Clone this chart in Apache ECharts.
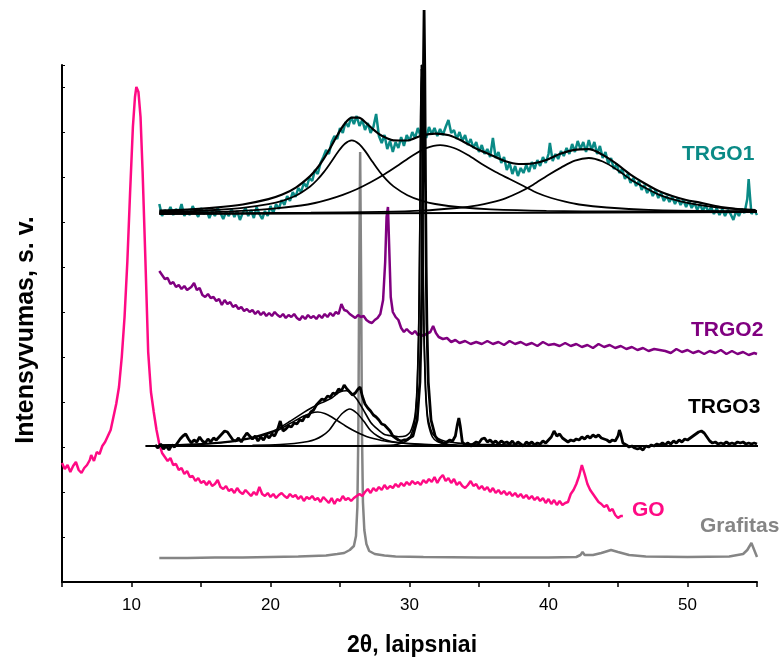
<!DOCTYPE html>
<html>
<head>
<meta charset="utf-8">
<script src="https://cdn.jsdelivr.net/npm/echarts@6/dist/echarts.min.js"></script>
<style>html,body{margin:0;padding:0;background:#fff}#c{width:784px;height:660px}</style>
</head>
<body>
<div id="c"></div>
<script>
// x-axis tick labels shown
const xTickLabels = [10, 20, 30, 40, 50];

// Grafitas (grey)
const grafitas = [[12,24],[14,24],[16,24.5],[18,24.5],[20,25],[22,25.5],[23,26],[24,26.5],[24.8,28],[25.3,29],[25.7,32],[26.0,36],[26.15,46],[26.25,75],[26.32,150],[26.38,300],[26.45,430],[26.52,300],[26.58,150],[26.65,80],[26.75,52],[26.9,38],[27.1,31],[27.5,28],[28.2,26.5],[29,25.5],[31,25],[35,24.5],[40,24.5],[42,25],[42.3,27],[42.45,30],[42.6,27],[43.2,27],[43.8,29],[44.5,32],[45,30],[45.8,27],[47,25.5],[50,25],[53,25.5],[54,28],[54.3,32],[54.6,39],[54.8,32],[55,25]];

// GO (pink)
const go = [[5.0,119],[5.2,113],[5.4,117],[5.6,110],[5.8,116],[6.0,120],[6.2,112],[6.4,109],[6.6,114],[6.8,117],[7.0,122],[7.1,127],[7.3,121],[7.5,130],[7.7,128],[7.9,136],[8.1,140],[8.3,146],[8.5,152],[8.7,165],[8.9,178],[9.1,195],[9.3,225],[9.5,265],[9.7,320],[9.9,390],[10.1,455],[10.25,485],[10.35,495],[10.5,490],[10.65,465],[10.8,410],[11.0,322],[11.2,230],[11.4,190],[11.6,170],[11.8,152],[12.0,138],[12.2,129],[12.4,125],[12.6,121],[12.8,124],[13.0,117],[13.2,118],[13.4,112],[13.6,114],[13.8,108],[14.0,111],[14.2,105],[14.4,106],[14.6,101],[14.8,104],[15.0,99],[15.2,101],[15.4,97],[15.6,101],[15.8,96],[16.0,98],[16.2,102],[16.4,95],[16.6,93],[16.8,96],[17.0,91],[17.2,93],[17.4,89],[17.6,94],[17.8,90],[18.0,88],[18.2,92],[18.4,89],[18.6,86],[18.8,90],[19.0,87],[19.2,95],[19.4,88],[19.6,86],[19.8,89],[20.0,85],[20.2,88],[20.4,84],[20.6,87],[20.8,89],[21.0,86],[21.2,84],[21.4,88],[21.6,85],[21.8,87],[22.0,83],[22.2,86],[22.4,81],[22.6,85],[22.8,83],[23.0,86],[23.2,82],[23.4,84],[23.6,80],[23.8,85],[24.0,82],[24.2,79],[24.4,84],[24.6,78],[24.8,83],[25.0,81],[25.2,86],[25.4,82],[25.6,84],[25.8,81],[26.0,84],[26.2,86],[26.4,88],[26.6,86],[26.8,90],[27.0,93],[27.2,89],[27.4,94],[27.6,91],[27.8,95],[28.0,92],[28.2,97],[28.4,93],[28.6,96],[28.8,94],[29.0,98],[29.2,95],[29.4,99],[29.6,96],[29.8,100],[30.0,97],[30.2,101],[30.4,98],[30.6,100],[30.8,97],[31.0,102],[31.2,99],[31.4,103],[31.6,100],[31.8,105],[32.0,99],[32.2,104],[32.4,107],[32.6,101],[32.8,104],[33.0,99],[33.2,103],[33.4,97],[33.6,100],[33.8,96],[34.0,94],[34.2,97],[34.4,101],[34.6,96],[34.8,98],[35.0,93],[35.2,96],[35.4,92],[35.6,95],[35.8,90],[36.0,94],[36.2,89],[36.4,92],[36.6,88],[36.8,91],[37.0,87],[37.2,90],[37.4,86],[37.6,89],[37.8,85],[38.0,88],[38.2,84],[38.4,87],[38.6,83],[38.8,86],[39.0,82],[39.2,85],[39.4,81],[39.6,84],[39.8,79],[40.0,83],[40.2,78],[40.4,82],[40.6,77],[40.8,81],[41.0,77],[41.2,79],[41.4,80],[41.6,88],[41.8,92],[42.0,98],[42.2,106],[42.4,117],[42.6,108],[42.8,98],[43.0,92],[43.2,88],[43.4,84],[43.6,80],[43.8,78],[44.0,75],[44.2,77],[44.4,71],[44.6,73],[44.8,67],[45.0,64],[45.2,66],[45.35,66]];

// TRGO2 (purple)
const trgo2 = [[12.0,311],[12.2,307],[12.4,303],[12.6,304],[12.8,298],[13.0,300],[13.2,295],[13.4,297],[13.6,293],[13.8,296],[14.0,292],[14.3,295],[14.5,299],[14.7,292],[14.9,294],[15.1,287],[15.3,285],[15.5,288],[15.7,284],[15.9,285],[16.1,281],[16.3,283],[16.5,277],[16.7,282],[16.9,278],[17.1,280],[17.3,275],[17.5,277],[17.7,273],[17.9,275],[18.1,271],[18.3,273],[18.5,270],[18.7,272],[18.9,268],[19.1,271],[19.3,267],[19.5,270],[19.7,266],[19.9,269],[20.1,266],[20.3,270],[20.5,267],[20.7,265],[20.9,268],[21.1,264],[21.3,267],[21.5,265],[21.7,268],[21.9,264],[22.1,262],[22.3,266],[22.5,263],[22.7,267],[22.9,264],[23.1,266],[23.3,263],[23.5,267],[23.7,264],[23.9,268],[24.1,265],[24.3,269],[24.5,266],[24.7,270],[24.9,268],[25.1,278],[25.3,272],[25.5,271],[25.7,268],[25.9,266],[26.1,264],[26.3,267],[26.5,265],[26.7,266],[26.9,262],[27.1,260],[27.3,259],[27.5,262],[27.7,264],[27.9,268],[28.1,282],[28.25,320],[28.35,365],[28.45,375],[28.55,330],[28.65,285],[28.8,270],[29.0,265],[29.2,262],[29.4,254],[29.6,250],[29.8,253],[30.0,250],[30.2,248],[30.4,251],[30.6,247],[30.8,248],[31.0,246],[31.2,248],[31.5,250],[31.7,256],[31.9,249],[32.1,245],[32.4,243],[32.7,244],[33.0,240],[33.3,242],[33.6,239],[34.0,241],[34.4,238],[34.8,240],[35.2,238],[35.6,241],[36.0,238],[36.4,240],[36.8,237],[37.2,241],[37.6,238],[38.0,240],[38.4,237],[38.8,239],[39.2,236],[39.6,240],[40.0,237],[40.4,238],[40.8,236],[41.2,239],[41.6,236],[42.0,238],[42.4,235],[42.8,237],[43.2,234],[43.6,238],[44.0,235],[44.4,237],[44.8,234],[45.2,236],[45.6,233],[46.0,235],[46.4,232],[46.8,234],[47.2,231],[47.6,233],[48.0,232],[48.4,231],[48.8,229],[49.2,233],[49.6,230],[50.0,232],[50.4,229],[50.8,231],[51.2,228],[51.6,231],[52.0,229],[52.4,232],[52.8,228],[53.2,231],[53.6,228],[54.0,230],[54.4,227],[54.8,229],[55.0,228]];

// TRGO1 (teal) measured
const trgo1 = [[12.0,378],[12.2,366],[12.4,372],[12.6,368],[12.8,375],[13.0,367],[13.2,373],[13.4,369],[13.6,378],[13.8,366],[14.0,371],[14.2,367],[14.4,376],[14.6,370],[14.8,365],[15.0,374],[15.2,368],[15.4,372],[15.6,364],[15.8,371],[16.0,366],[16.2,374],[16.4,369],[16.6,363],[16.8,370],[17.0,366],[17.2,373],[17.4,365],[17.6,371],[17.8,362],[18.0,369],[18.2,374],[18.4,366],[18.6,372],[18.8,364],[19.0,375],[19.2,368],[19.4,363],[19.6,371],[19.8,366],[20.0,376],[20.2,369],[20.4,378],[20.6,373],[20.8,382],[21.0,377],[21.2,386],[21.4,381],[21.6,390],[21.8,385],[22.0,394],[22.2,390],[22.4,399],[22.6,395],[22.8,404],[23.0,401],[23.2,412],[23.4,408],[23.6,419],[23.8,425],[24.0,432],[24.2,428],[24.4,440],[24.6,446],[24.8,443],[25.0,454],[25.2,449],[25.4,460],[25.6,455],[25.8,465],[26.0,458],[26.2,466],[26.4,456],[26.6,462],[26.8,452],[27.0,459],[27.2,449],[27.4,455],[27.6,468],[27.8,446],[28.0,439],[28.2,447],[28.4,433],[28.6,441],[28.8,430],[29.0,440],[29.2,434],[29.4,445],[29.6,436],[29.8,447],[30.0,441],[30.2,450],[30.4,444],[30.6,454],[30.8,446],[31.0,452],[31.2,444],[31.4,455],[31.6,448],[31.8,454],[32.0,446],[32.2,453],[32.4,447],[32.6,455],[32.8,462],[33.0,449],[33.2,452],[33.4,443],[33.6,450],[33.8,441],[34.0,447],[34.2,437],[34.4,443],[34.6,434],[34.8,440],[35.0,430],[35.2,437],[35.4,428],[35.6,433],[35.8,425],[36.0,444],[36.2,424],[36.4,430],[36.6,419],[36.8,425],[37.0,412],[37.2,419],[37.4,408],[37.6,416],[37.8,406],[38.0,414],[38.2,409],[38.4,417],[38.6,410],[38.8,420],[39.0,413],[39.2,422],[39.4,416],[39.6,425],[39.8,419],[40.0,428],[40.1,439],[40.3,421],[40.5,428],[40.7,423],[40.9,431],[41.1,426],[41.3,434],[41.5,428],[41.7,438],[41.9,430],[42.1,441],[42.3,433],[42.5,440],[42.7,430],[42.9,442],[43.1,432],[43.3,440],[43.5,428],[43.7,436],[43.9,424],[44.1,430],[44.3,418],[44.5,424],[44.7,413],[44.9,418],[45.1,409],[45.3,413],[45.5,403],[45.7,408],[45.9,399],[46.1,404],[46.3,396],[46.5,401],[46.7,392],[46.9,397],[47.1,389],[47.3,394],[47.5,386],[47.7,392],[47.9,384],[48.1,389],[48.3,381],[48.5,386],[48.7,380],[48.9,385],[49.1,378],[49.3,384],[49.5,377],[49.7,382],[49.9,375],[50.1,381],[50.3,374],[50.5,379],[50.7,372],[50.9,378],[51.1,371],[51.3,377],[51.5,370],[51.7,375],[51.9,368],[52.1,374],[52.3,367],[52.5,373],[52.7,366],[52.9,372],[53.1,368],[53.3,362],[53.5,371],[53.7,366],[53.9,373],[54.1,369],[54.3,383],[54.4,403],[54.5,385],[54.6,368],[54.8,372],[55.0,367]];
// TRGO1 fitted curves (black)
const trgo1Fit = [[12,371.3],[14,372.4],[16,374.3],[18,377.5],[19.85,382.9],[20.85,387.4],[21.85,394.7],[22.85,405.9],[23.35,413.7],[23.85,423.7],[24.35,435.3],[24.85,447.8],[25.35,458.5],[25.85,464.3],[26.35,464.4],[26.85,459.4],[27.35,453.0],[27.85,447.5],[28.35,444.0],[28.85,441.7],[29.85,441.5],[30.85,446.3],[31.85,448.4],[32.85,446.7],[33.85,440.6],[34.85,433.0],[35.85,427.1],[36.85,421.0],[37.85,418.0],[38.85,418.5],[39.85,422.0],[40.85,428.2],[41.85,432.1],[42.9,432.8],[43.9,427.1],[44.9,418.1],[45.9,407.4],[46.9,398.8],[47.9,391.3],[48.9,386.0],[49.9,382.0],[50.9,379.4],[52.4,375.0],[55,371.0]];
const trgo1Peak1 = [[12,370.0],[14,370.7],[16,372.0],[18,374.1],[19.85,377.8],[20.85,381.1],[21.85,386.5],[22.85,395.5],[23.35,402.0],[23.85,410.1],[24.35,419.8],[24.85,430.0],[25.35,438.3],[25.85,441.6],[26.35,438.3],[26.85,430.1],[27.35,419.9],[27.85,410.2],[28.35,402.1],[28.85,395.6],[29.85,386.7],[30.85,381.3],[31.85,378.0],[33.85,374.5],[35.85,372.7],[39.85,371.2],[45,370.5],[55,370.5]];
const trgo1Peak2 = [[12,369.0],[17.2,370.7],[20.2,373.4],[22.2,376.5],[23.2,379.0],[24.2,382.6],[25.2,387.1],[26.2,392.7],[27.2,399.7],[28.2,407.7],[29.2,416.8],[30.2,426.3],[31.2,433.9],[32.2,436.9],[33.2,434.0],[34.2,427.0],[35.2,418.0],[36.2,410.0],[37.2,403.0],[38.2,396.0],[39.2,389.0],[40.2,384.0],[41.2,380.3],[42.2,377.5],[44.2,374.5],[47.2,372.1],[52.2,370.9],[55,370.8]];
const trgo1Peak3 = [[12,368.3],[22.9,369.3],[27.9,370.2],[30.9,371.4],[33.4,374.0],[34.9,376.6],[35.9,379.6],[36.9,383.7],[37.9,389.7],[38.9,397.3],[39.9,406.3],[40.9,414.4],[41.9,421.4],[42.9,424.0],[43.9,420.5],[44.9,412.6],[45.9,402.6],[46.9,394.7],[47.9,387.7],[48.9,382.8],[49.9,379.3],[50.9,376.9],[52.9,373.5],[54.9,372.0]];
const trgo1Base = [[12,368],[55,370]];

// TRGO3 (black) measured
const trgo3 = [[11.7,137],[11.9,134],[12.1,138],[12.3,133],[12.5,136],[12.7,132],[12.9,137],[13.1,135],[13.3,139],[13.5,143],[13.7,146],[13.9,148],[14.1,143],[14.3,139],[14.5,142],[14.7,140],[14.9,145],[15.1,141],[15.3,139],[15.5,143],[15.7,140],[15.9,144],[16.1,142],[16.3,145],[16.5,148],[16.7,151],[16.9,150],[17.1,146],[17.3,142],[17.5,141],[17.7,144],[17.9,140],[18.1,145],[18.3,149],[18.5,146],[18.7,143],[18.9,146],[19.1,141],[19.3,145],[19.5,142],[19.7,147],[19.9,144],[20.1,148],[20.3,146],[20.5,152],[20.7,161],[20.9,151],[21.1,153],[21.3,156],[21.5,155],[21.7,159],[21.9,158],[22.1,162],[22.3,161],[22.5,166],[22.7,165],[22.9,170],[23.1,172],[23.3,177],[23.5,180],[23.7,183],[23.9,182],[24.1,186],[24.3,185],[24.5,189],[24.7,188],[24.9,193],[25.1,191],[25.3,197],[25.5,193],[25.7,190],[25.9,187],[26.1,189],[26.3,193],[26.45,195],[26.6,186],[26.8,178],[27.0,174],[27.2,171],[27.4,167],[27.6,165],[27.8,162],[28.0,158],[28.2,157],[28.4,154],[28.6,151],[28.8,146],[29.0,144],[29.2,142],[29.4,141],[29.6,142],[29.8,142],[30.0,144],[30.25,146],[30.55,162],[30.75,200],[30.85,258],[30.9,315],[30.95,402],[31.0,511],[31.05,572],[31.1,511],[31.15,402],[31.2,315],[31.25,258],[31.35,200],[31.55,162],[31.85,146],[32.1,141],[32.3,140],[32.5,138],[32.7,140],[32.9,142],[33.1,141],[33.3,146],[33.45,158],[33.55,164],[33.65,156],[33.8,140],[34.0,137],[34.2,139],[34.4,136],[34.6,138],[34.8,140],[35.0,139],[35.2,143],[35.4,144],[35.6,140],[35.8,142],[36.0,139],[36.2,141],[36.4,138],[36.6,141],[36.8,139],[37.0,140],[37.2,138],[37.4,141],[37.6,137],[37.8,140],[38.0,138],[38.2,136],[38.4,140],[38.6,138],[38.8,140],[39.0,137],[39.2,139],[39.4,138],[39.6,141],[39.8,139],[40.0,142],[40.2,145],[40.4,151],[40.6,146],[40.8,148],[41.0,144],[41.2,142],[41.4,140],[41.6,142],[41.8,141],[42.0,143],[42.2,142],[42.4,145],[42.6,143],[42.8,146],[43.0,144],[43.2,147],[43.4,145],[43.6,147],[43.8,144],[44.0,143],[44.2,142],[44.4,140],[44.6,142],[44.8,141],[45.0,146],[45.1,152],[45.2,148],[45.35,139],[45.6,137],[45.8,135],[46.0,136],[46.2,134],[46.4,133],[46.6,134],[46.8,132],[47.0,136],[47.2,135],[47.4,137],[47.6,136],[47.8,138],[48.0,137],[48.2,139],[48.4,137],[48.6,140],[48.8,138],[49.0,141],[49.2,139],[49.4,142],[49.6,140],[49.8,143],[50.0,142],[50.2,144],[50.4,146],[50.6,148],[50.8,150],[51.0,151],[51.2,149],[51.4,145],[51.6,141],[51.8,139],[52.0,140],[52.2,138],[52.4,139],[52.6,138],[52.8,140],[53.0,138],[53.2,139],[53.4,138],[53.6,140],[53.8,139],[54.0,140],[54.2,138],[54.4,139],[54.6,138],[54.8,139],[55.0,138]];
// TRGO3 fitted curves
const trgo3Fit = [[12,137],[13.4,137.3],[15.4,138.4],[17.4,141.1],[18.4,143.7],[19.4,147.4],[20.4,152.3],[21.4,160.7],[22.4,169.6],[22.9,173.8],[23.4,177.5],[23.9,180.5],[24.4,184],[24.9,189.5],[25.2,191],[25.45,191.3],[25.7,190.5],[26.2,182.9],[26.7,171.7],[27.2,159.8],[27.7,152.8],[28.2,147.5],[28.7,146.1],[29.2,145.3],[29.7,146],[30.05,149.9],[30.35,162.8],[30.45,174],[30.55,196.6],[30.65,246.5],[30.7,295],[30.75,370],[30.8,465],[30.85,517],[30.9,465],[30.95,370],[31.0,295],[31.05,246],[31.15,196],[31.25,173],[31.35,162],[31.65,148.4],[32.05,143.5],[32.55,140.8],[33.5,138.9],[35,137.8],[40,136.5],[55,136.2]];
const trgo3Peak1 = [[12,136.7],[13.4,137],[15.4,138],[17.4,140.5],[18.4,143],[19.4,146.5],[20.4,151],[21.4,158.5],[22.4,166],[22.9,168.8],[23.4,170],[23.9,168.5],[24.4,165],[24.9,160.5],[25.4,156],[25.9,152],[26.4,148.5],[26.9,145.5],[27.4,143.5],[28.4,140.5],[29.4,139],[31.4,137.5],[33.4,136.8],[36,136.3]];
const trgo3Peak2 = [[18.7,136.7],[20.7,137.5],[21.7,138.5],[22.7,140.5],[23.2,142.5],[23.7,146],[24.2,151.5],[24.7,161],[25.2,169],[25.7,173],[26.2,169],[26.7,161],[27.2,151.5],[27.7,146],[28.2,142.5],[28.7,140.5],[29.7,138.5],[30.7,137.5],[32.7,136.7]];
const trgo3Peak3 = [[27,136.2],[28.85,136.9],[29.2,138.1],[29.7,140.4],[30.05,145],[30.35,158.2],[30.45,169.5],[30.55,191.8],[30.65,241.9],[30.7,290.5],[30.75,365.9],[30.8,461],[30.85,513],[30.9,461],[30.95,365.9],[31.0,290.5],[31.05,241.9],[31.15,191.8],[31.25,169.5],[31.35,158.2],[31.65,145],[32.0,140.4],[32.5,138.1],[33.35,136.9],[35,136.2]];
const trgo3Base = [[11,136],[56.5,136]];

const COLORS = { teal:'#0a8a86', purple:'#800080', pink:'#ff0a84', grey:'#858585', black:'#000000' };
const FONT = '"Liberation Sans", Arial, sans-serif';
const NARROW = '"Liberation Sans Narrow", "Liberation Sans", Arial, sans-serif';

function line(name, data, color, width, smooth, z) {
  return { name, type:'line', data, showSymbol:false, clip:false, smooth: smooth,
    lineStyle:{ color, width }, z: z, silent:true, animation:false };
}

const chart = echarts.init(document.getElementById('c'), null, {renderer:'canvas'});
chart.setOption({
  animation:false,
  backgroundColor:'#ffffff',
  grid:{ left:62, right:27, top:65, bottom:78 },
  xAxis:{ type:'value', min:5, max:55, interval:5,
    axisLine:{ show:true, onZero:false, lineStyle:{ color:'#000', width:2 } },
    axisTick:{ show:true, inside:false, length:5, lineStyle:{ color:'#000', width:1.5 } },
    axisLabel:{ margin:15, fontFamily:NARROW, fontSize:17, color:'#000',
      formatter: v => xTickLabels.indexOf(v) >= 0 ? String(v) : '' },
    splitLine:{ show:false } },
  yAxis:{ type:'value', min:0, max:517, interval:45,
    axisLine:{ show:true, lineStyle:{ color:'#000', width:2 } },
    axisTick:{ show:true, inside:true, length:3, lineStyle:{ color:'#000', width:1 } },
    axisLabel:{ show:false }, splitLine:{ show:false } },
  series:[
    line('Grafitas', grafitas, COLORS.grey, 2.5, false, 2),
    line('GO', go, COLORS.pink, 2.5, false, 3),
    line('TRGO2', trgo2, COLORS.purple, 2.5, false, 4),
    line('TRGO1', trgo1, COLORS.teal, 2.5, false, 5),
    line('TRGO1 fit', trgo1Fit, COLORS.black, 2.2, 0.3, 6),
    line('TRGO1 p1', trgo1Peak1, COLORS.black, 1.8, 0.3, 6),
    line('TRGO1 p2', trgo1Peak2, COLORS.black, 1.8, 0.3, 6),
    line('TRGO1 p3', trgo1Peak3, COLORS.black, 1.8, 0.3, 6),
    line('TRGO1 base', trgo1Base, COLORS.black, 1.8, false, 6),
    line('TRGO3', trgo3, COLORS.black, 2.8, false, 7),
    line('TRGO3 fit', trgo3Fit, COLORS.black, 1.6, 0.2, 8),
    line('TRGO3 p1', trgo3Peak1, COLORS.black, 1.6, 0.3, 8),
    line('TRGO3 p2', trgo3Peak2, COLORS.black, 1.6, 0.3, 8),
    line('TRGO3 p3', trgo3Peak3, COLORS.black, 1.6, 0.2, 8),
    line('TRGO3 base', trgo3Base, COLORS.black, 2, false, 8)
  ],
  graphic:[
    { type:'text', x:682, y:154, style:{ text:'TRGO1', fill:COLORS.teal, font:'bold 21px '+FONT, align:'left', verticalAlign:'middle' } },
    { type:'text', x:691, y:330, style:{ text:'TRGO2', fill:COLORS.purple, font:'bold 21px '+FONT, align:'left', verticalAlign:'middle' } },
    { type:'text', x:688, y:407, style:{ text:'TRGO3', fill:'#000', font:'bold 21px '+FONT, align:'left', verticalAlign:'middle' } },
    { type:'text', x:632, y:510, style:{ text:'GO', fill:COLORS.pink, font:'bold 21px '+FONT, align:'left', verticalAlign:'middle' } },
    { type:'text', x:700, y:526, style:{ text:'Grafitas', fill:COLORS.grey, font:'bold 21px '+FONT, align:'left', verticalAlign:'middle' } },
    { type:'text', x:412, y:646, style:{ text:'2θ, laipsniai', fill:'#000', font:'bold 23px '+FONT, align:'center', verticalAlign:'middle' } },
    { type:'text', x:26, y:330, rotation:Math.PI/2, style:{ text:'Intensyvumas, s. v.', fill:'#000', font:'bold 25px '+FONT, align:'center', verticalAlign:'middle' } }
  ]
});
</script>
</body>
</html>
